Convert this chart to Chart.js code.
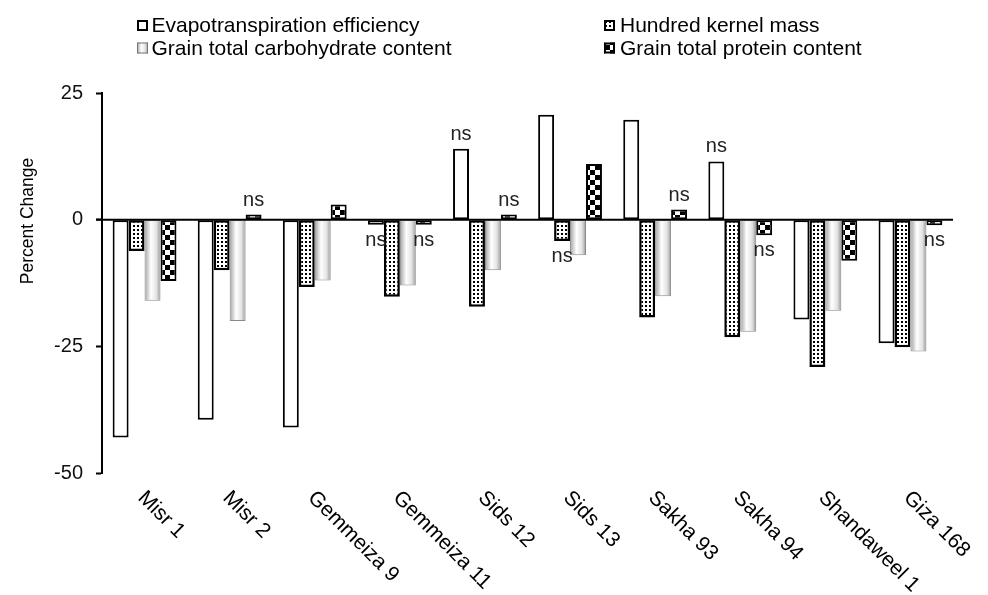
<!DOCTYPE html>
<html>
<head>
<meta charset="utf-8">
<title>Percent change by cultivar</title>
<script src="https://cdn.jsdelivr.net/npm/chart.js@4/dist/chart.umd.min.js"></script>
<style>
  html, body { margin: 0; padding: 0; background: #fff; }
  canvas { display: block; }
</style>
</head>
<body>
<canvas id="chart" width="988" height="595"></canvas>
<script>
// Cultivars on the category axis
const categories = ['Misr 1', 'Misr 2', 'Gemmeiza 9', 'Gemmeiza 11', 'Sids 12',
                    'Sids 13', 'Sakha 93', 'Sakha 94', 'Shandaweel 1', 'Giza 168'];

// Series names (legend order)
const seriesNames = ['Evapotranspiration efficiency', 'Hundred kernel mass',
                     'Grain total carbohydrate content', 'Grain total protein content'];

// Percent change per cultivar, one array per trait
const evapoEfficiency = [-43, -39.5, -41, -1, 14, 20.7, 19.7, 11.5, -19.7, -24.4];
const kernelMass      = [-6.2, -10, -13.3, -15.2, -17.2, -4.2, -19.3, -23.2, -29.1, -25.2];
const carbohydrate    = [-16, -20, -12, -13, -10, -7, -15.1, -22.1, -18, -26];
const protein         = [-12.1, 1, 3, -1, 1, 11, 2, -3.1, -8.1, -1.1];

// Non-significant changes (marked "ns")
const evapoNs   = [false, false, false, true, true, false, false, true, false, false];
const kernelNs  = [false, false, false, false, false, true, false, false, false, false];
const carbNs    = [false, false, false, false, false, false, false, false, false, false];
const proteinNs = [false, true, false, true, true, false, true, true, false, true];

// Y axis tick labels
const yTicks = [-50, -25, 0, 25];
const yTitle = 'Percent Change';

const FONT = '"Liberation Sans", Arial, Helvetica, sans-serif';
const CAT_PCT = 0.75;

// ---- fill patterns ----
function makeDots() {
  const c = document.createElement('canvas');
  c.width = 4; c.height = 4;
  const g = c.getContext('2d');
  g.fillStyle = '#fff'; g.fillRect(0, 0, 4, 4);
  g.fillStyle = '#000'; g.fillRect(1, 1, 2, 2);
  return g.createPattern(c, 'repeat');
}
function makeChecker() {
  const c = document.createElement('canvas');
  c.width = 10; c.height = 10;
  const g = c.getContext('2d');
  g.fillStyle = '#fff'; g.fillRect(0, 0, 10, 10);
  g.fillStyle = '#000'; g.fillRect(0, 0, 5, 5); g.fillRect(5, 5, 5, 5);
  return g.createPattern(c, 'repeat');
}
const dotPattern = makeDots();
const checkPattern = makeChecker();

function shadeGradient(g, left, width) {
  const gr = g.createLinearGradient(left, 0, left + width, 0);
  gr.addColorStop(0, '#a0a0a0');
  gr.addColorStop(0.4, '#ffffff');
  gr.addColorStop(0.75, '#e2e2e2');
  gr.addColorStop(1, '#959595');
  return gr;
}

// Cylinder-like shading for the carbohydrate bars, placed via the x scale
function carbFill(ctx) {
  const chart = ctx.chart;
  const xs = chart.scales.x;
  if (ctx.type !== 'data' || !xs || !chart.chartArea) return '#e0e0e0';
  const n = categories.length;
  const catW = (xs.right - xs.left) / n;
  const barW = catW * CAT_PCT / 4;
  const cx = xs.getPixelForValue(ctx.dataIndex) + (ctx.datasetIndex - 1.5) * barW;
  return shadeGradient(chart.ctx, cx - barW / 2, barW);
}

const seriesValues = [evapoEfficiency, kernelMass, carbohydrate, protein];
const seriesNs = [evapoNs, kernelNs, carbNs, proteinNs];
const fills = ['#ffffff', dotPattern, carbFill, checkPattern];
const borders = ['#000000', '#000000', '#8a8a8a', '#000000'];
const borderWidths = [2, 2.5, 1, 2];

const overlay = {
  id: 'overlay',
  afterDatasetsDraw(chart) {
    const g = chart.ctx;
    const xs = chart.scales.x, ys = chart.scales.y;
    const area = chart.chartArea;

    // zero line
    const y0 = ys.getPixelForValue(0);
    g.save();
    g.strokeStyle = '#000';
    g.lineWidth = 2;
    g.beginPath();
    g.moveTo(area.left - 6, y0);
    g.lineTo(area.right, y0);
    g.stroke();

    // "ns" marks
    g.fillStyle = '#222';
    g.font = '20px ' + FONT;
    g.textAlign = 'center';
    g.textBaseline = 'alphabetic';
    seriesNs.forEach((flags, d) => {
      const meta = chart.getDatasetMeta(d);
      flags.forEach((isNs, i) => {
        if (!isNs) return;
        const el = meta.data[i];
        const v = seriesValues[d][i];
        const ty = v >= 0 ? el.y - 9 : el.y + 21;
        g.fillText('ns', el.x, ty);
      });
    });

    // rotated category labels
    const lsize = 21;
    g.font = lsize + 'px ' + FONT;
    g.fillStyle = '#000';
    g.textAlign = 'left';
    categories.forEach((label, i) => {
      const cx = xs.getPixelForValue(i);
      g.save();
      g.translate(cx + 3, 488);
      g.rotate(Math.PI / 4);
      g.fillText(label, 0, lsize * 0.716);
      g.restore();
    });

    // y axis title
    g.save();
    g.font = '17.5px ' + FONT;
    g.textAlign = 'center';
    g.textBaseline = 'middle';
    g.translate(28, 221);
    g.rotate(-Math.PI / 2);
    g.fillText(yTitle, 0, 0);
    g.restore();

    // legend, two columns
    const items = [
      { x: 137, y: 20, tx: 151.5, base: 32 },
      { x: 604, y: 20, tx: 620, base: 32 },
      { x: 137, y: 42.5, tx: 151.5, base: 54.5 },
      { x: 604, y: 42.5, tx: 620, base: 54.5 }
    ];
    g.font = '21px ' + FONT;
    g.textAlign = 'left';
    g.textBaseline = 'alphabetic';
    items.forEach((it, d) => {
      const s = 11;
      let f = fills[d];
      if (typeof f === 'function') f = shadeGradient(g, it.x, s);
      g.fillStyle = f;
      g.fillRect(it.x, it.y, s, s);
      g.strokeStyle = d === 2 ? '#777' : '#000';
      g.lineWidth = d === 2 ? 1 : 2;
      const inset = d === 2 ? 0.5 : 1;
      g.strokeRect(it.x + inset, it.y + inset, s - 2 * inset, s - 2 * inset);
      g.fillStyle = '#000';
      g.fillText(seriesNames[d], it.tx, it.base);
    });
    g.restore();
  }
};

new Chart(document.getElementById('chart'), {
  type: 'bar',
  data: {
    labels: categories,
    datasets: seriesNames.map((name, d) => ({
      label: name,
      data: seriesValues[d],
      backgroundColor: fills[d],
      borderColor: borders[d],
      borderWidth: borderWidths[d],
      borderSkipped: false,
      categoryPercentage: CAT_PCT,
      barPercentage: 1.0
    }))
  },
  options: {
    responsive: false,
    animation: false,
    devicePixelRatio: 1,
    layout: { padding: { top: 93, bottom: 122, left: 0, right: 35 } },
    plugins: { legend: { display: false }, tooltip: { enabled: false } },
    scales: {
      x: { display: false },
      y: {
        min: -50,
        max: 25,
        afterBuildTicks(scale) { scale.ticks = yTicks.map(v => ({ value: v })); },
        afterFit(scale) { scale.width = 102; scale.paddingTop = 0; scale.paddingBottom = 0; },
        ticks: { color: '#111', font: { size: 20, family: FONT }, padding: 13 },
        grid: { drawOnChartArea: false, tickLength: 6, tickColor: '#000', tickWidth: 2 },
        border: { display: true, color: '#000', width: 2 }
      }
    }
  },
  plugins: [overlay]
});
</script>
</body>
</html>
